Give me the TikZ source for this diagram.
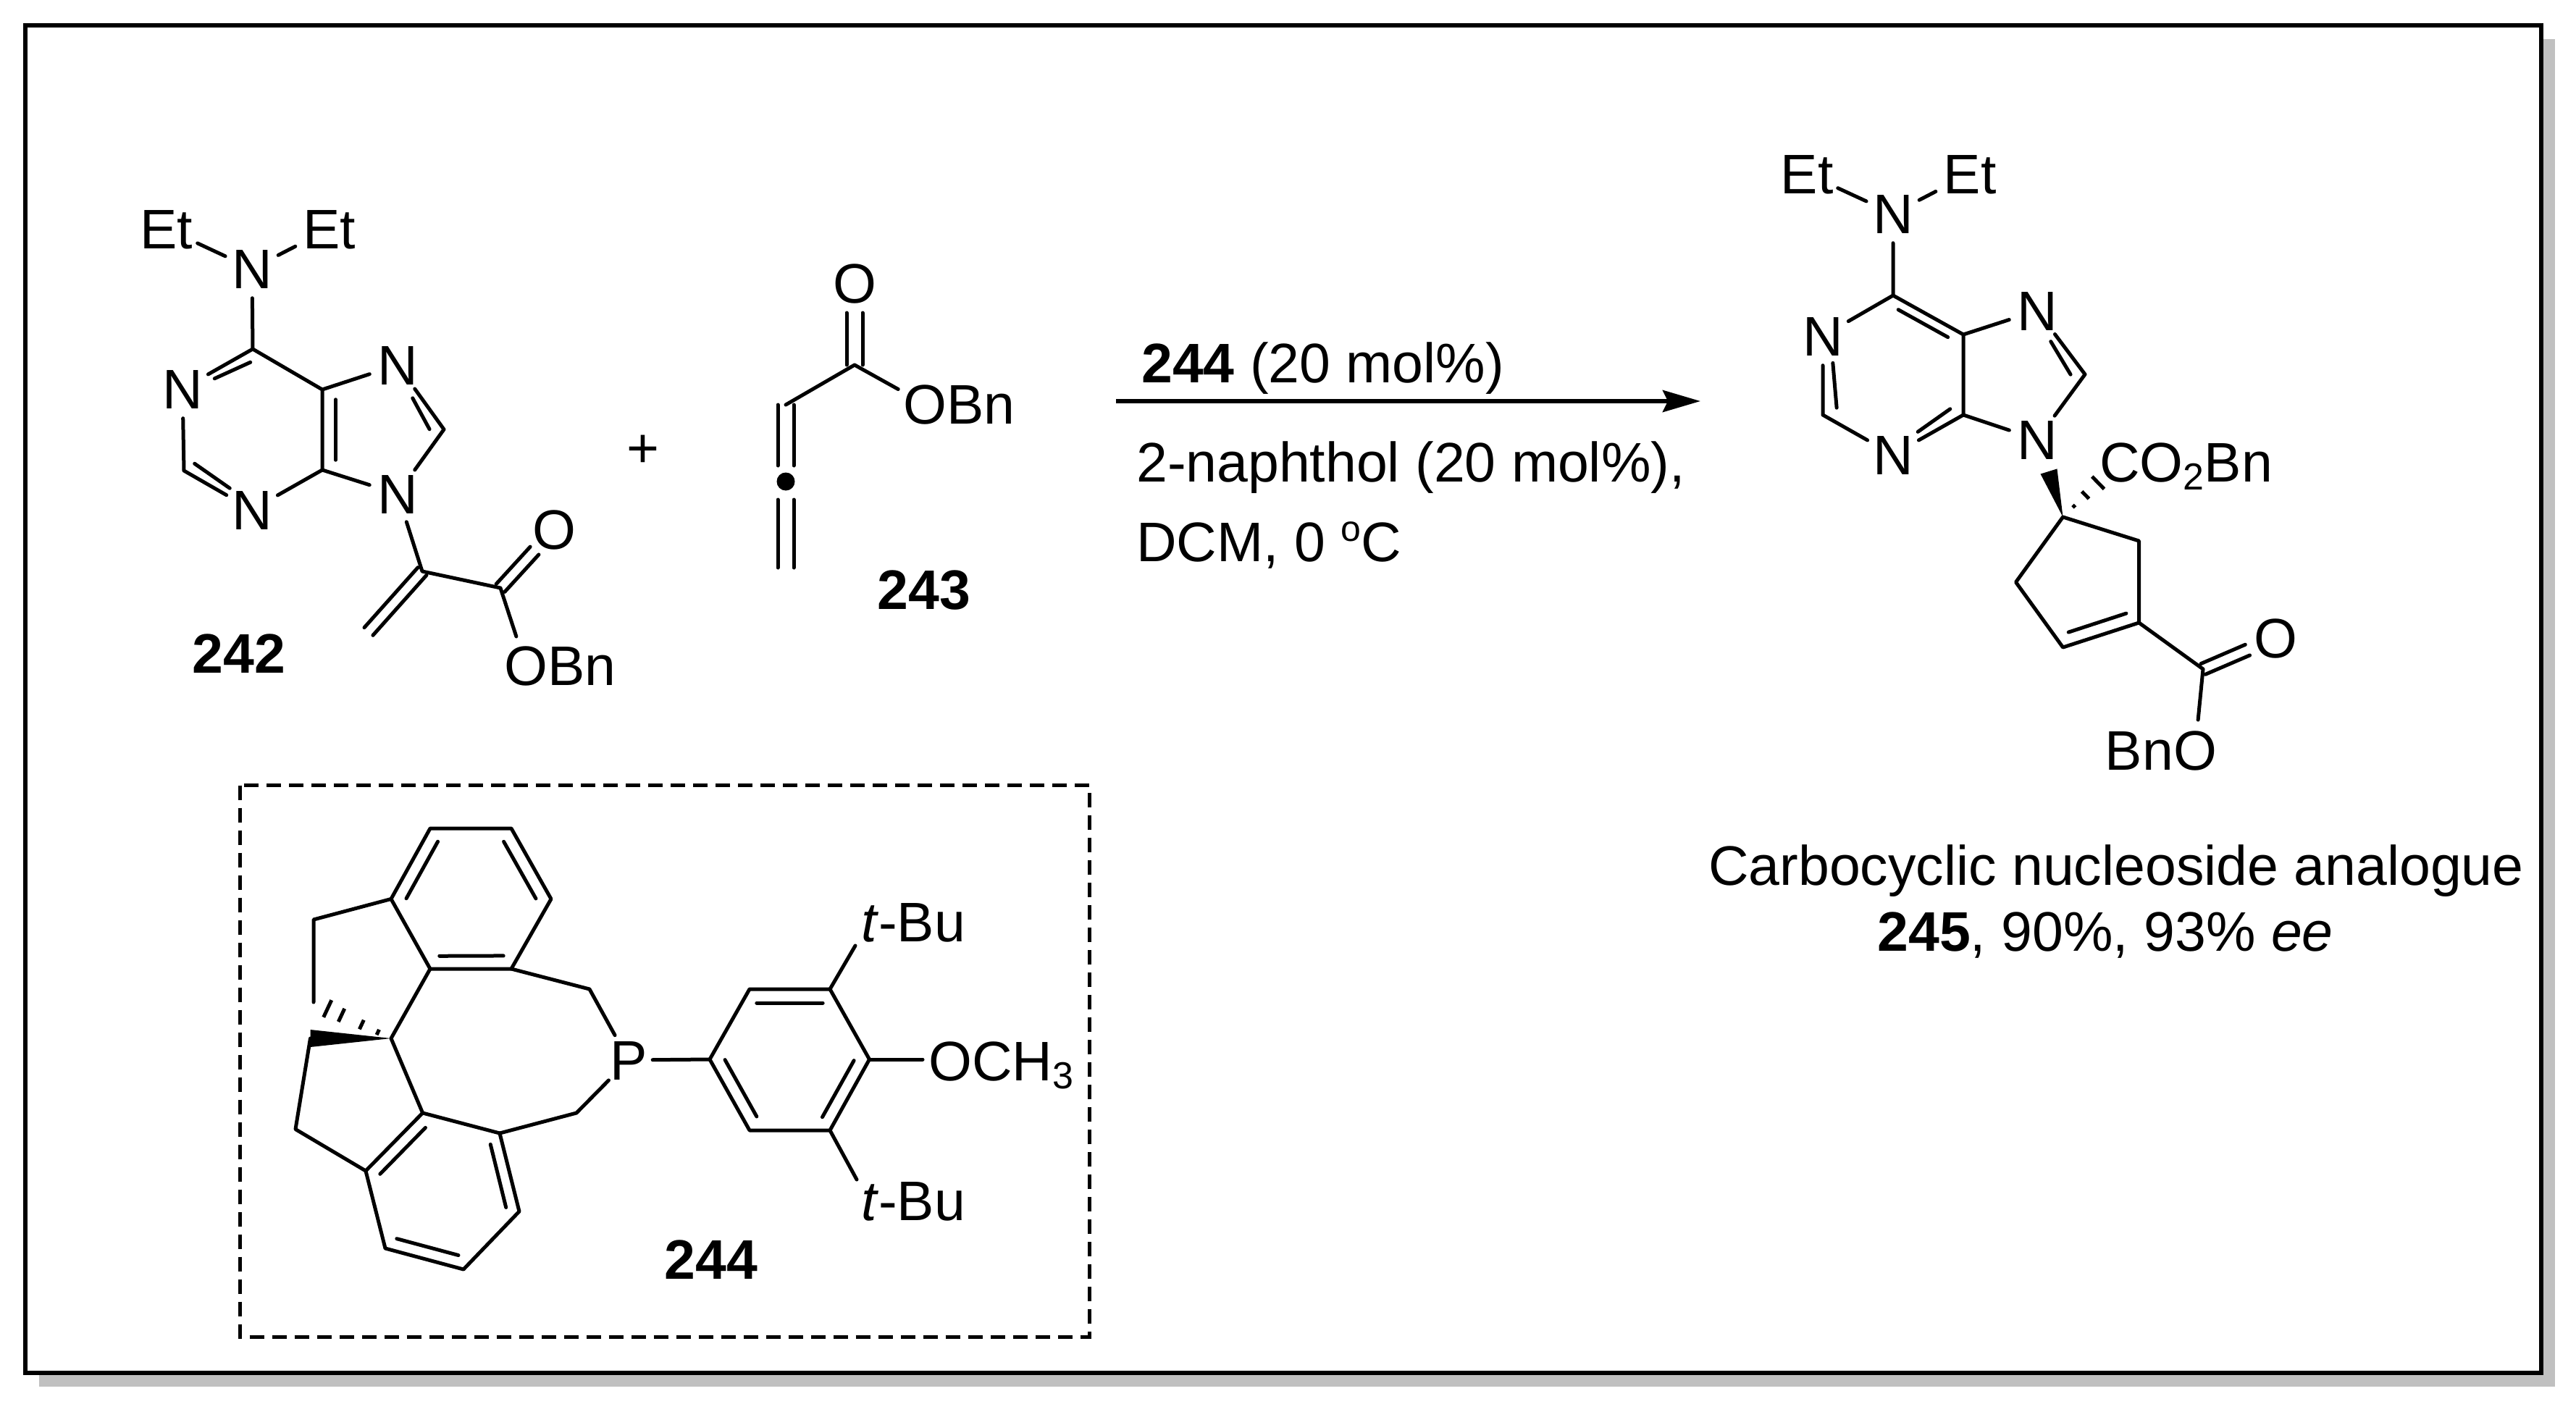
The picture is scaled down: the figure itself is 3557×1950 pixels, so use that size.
\documentclass[tikz,border=0pt]{standalone}
\usepackage{fontspec}
\setmainfont{Liberation Sans}
\usetikzlibrary{calc,arrows.meta}
\newcommand{\subnum}[1]{\raisebox{-11pt}{\fontsize{52}{52}\selectfont #1}}
\newcommand{\supo}{\raisebox{28pt}{\fontsize{50}{50}\selectfont o}}
\newcommand{\dbl}[5]{\draw[bond] ($(#1)!#3pt!90:(#2)!#4pt!(#2)$) -- ($(#2)!#3pt!-90:(#1)!#5pt!(#1)$);}
\newcommand{\sym}[5]{%
  \draw[bond,shorten <=#4pt,shorten >=#5pt] ($(#1)!#3pt!90:(#2)$) -- ($(#2)!#3pt!-90:(#1)$);
  \draw[bond,shorten <=#4pt,shorten >=#5pt] ($(#1)!#3pt!-90:(#2)$) -- ($(#2)!#3pt!90:(#1)$);}
\newcommand{\wedgebond}[3]{\fill[black] (#1) -- ($(#2)!#3pt!90:(#1)$) -- ($(#2)!#3pt!-90:(#1)$) -- cycle;}
\newcommand{\hashstroke}[4]{\draw[bond,line cap=butt] ($(#1)!#3!(#2)!#4pt!90:(#2)$) -- ($(#1)!#3!(#2)!#4pt!-90:(#2)$);}
\definecolor{shadowgrey}{HTML}{C0C0C0}
\tikzset{
  every node/.style={font=\fontsize{77}{92}\selectfont},
  bond/.style={line width=5pt,line cap=round,line join=round,black},
  atom/.style={circle,inner sep=1pt,text height=55pt,text depth=0pt},
  lab/.style={inner sep=0pt,text height=55pt,text depth=0pt},
}
\begin{document}
\begin{tikzpicture}[x=1pt,y=-1pt]
\useasboundingbox (0,0) rectangle (3557,1950);
\fill[white] (0,0) rectangle (3557,1950);
\fill[shadowgrey] (54,54) rectangle (3528,1915);
\draw[line width=6pt,fill=white] (35,35.5) rectangle (3509,1896);

% ---------- 242 ----------
\node[atom] (a_N) at (348,371) {N};
\node[atom] (a_Et1) at (230,316) {Et};
\node[atom] (a_Et2) at (455,316) {Et};
\coordinate (a_C6) at (349,482);
\node[atom] (a_N1) at (252,537) {N};
\coordinate (a_C2) at (254,650);
\node[atom] (a_N3) at (348,704) {N};
\coordinate (a_C4) at (445,649);
\coordinate (a_C5) at (445,538);
\node[atom] (a_N7) at (549,504) {N};
\coordinate (a_C8) at (613,593);
\node[atom] (a_N9) at (549,682) {N};
\coordinate (a_Ca) at (583,789);
\coordinate (a_CH2) at (509,872);
\coordinate (a_CO) at (691,812);
\node[atom] (a_O) at (765,731) {O};
\node[atom] (a_O2) at (726,919) {O};
\node[lab,anchor=west] (a_Bn) at (756,919) {Bn};
\node[lab] (l242) at (330,902) {\textbf{242}};
\draw[bond] (a_N) -- (a_Et1);
\draw[bond,shorten >=6pt] (a_N) -- (a_Et2);
\draw[bond] (a_N) -- (a_C6);
\draw[bond] (a_C6) -- (a_N1) (a_N1) -- (a_C2) (a_C2) -- (a_N3) (a_N3) -- (a_C4) -- (a_C5) -- (a_C6);
\draw[bond] (a_C5) -- (a_N7) (a_N7) -- (a_C8) (a_C8) -- (a_N9) (a_N9) -- (a_C4);
\draw[bond] (a_N9) -- (a_Ca) -- (a_CO) (a_CO) -- (a_O2);
\dbl{a_C6}{a_N1}{16}{12}{46}
\dbl{a_C2}{a_N3}{17}{8}{42}
\dbl{a_C5}{a_C4}{21}{14}{14}
\dbl{a_C8}{a_N7}{18}{12}{50}
\sym{a_CO}{a_O}{8}{0}{40}
\sym{a_Ca}{a_CH2}{8}{0}{0}

\node[lab] (plus) at (888,618) {+};

% ---------- 243 ----------
\node[atom] (b_O) at (1180,391) {O};
\coordinate (b_C) at (1180,504);
\coordinate (b_CH) at (1085,559);
\coordinate (b_dot) at (1085,665);
\coordinate (b_end) at (1085,784);
\node[atom] (b_O2) at (1277,558) {O};
\node[lab,anchor=west] (b_Bn) at (1307,558) {Bn};
\node[lab] (l243) at (1276,814) {\textbf{243}};
\fill[black] (b_dot) circle (12.5pt);
\draw[bond] (b_CH) -- (b_C) (b_C) -- (b_O2);
\sym{b_C}{b_O}{11}{0}{41}
\sym{b_CH}{b_dot}{11}{0}{22}
\sym{b_dot}{b_end}{11}{25}{0}

% ---------- arrow ----------
\coordinate (arrS) at (1541,554);
\coordinate (arrE) at (2348,554);
\draw[line width=6pt,-{Stealth[length=52pt,width=30pt,inset=7pt]}] (arrS) -- (arrE);
\node[lab,anchor=west] (t1) at (1576,501) {\textbf{244} (20 mol\%)};
\node[lab,anchor=west] (t2) at (1569,638) {2-naphthol (20 mol\%),};
\node[lab,anchor=west] (t3) at (1569,748) {DCM, 0 \supo C};

% ---------- 245 ----------
\node[atom] (c_N) at (2614,295) {N};
\node[atom] (c_Et1) at (2495,240) {Et};
\node[atom] (c_Et2) at (2720,240) {Et};
\coordinate (c_C6) at (2614,408);
\node[atom] (c_N1) at (2517,464) {N};
\coordinate (c_C2) at (2517,573);
\node[atom] (c_N3) at (2614,628) {N};
\coordinate (c_C4) at (2711,573);
\coordinate (c_C5) at (2711,462);
\node[atom] (c_N7) at (2813,429) {N};
\coordinate (c_C8) at (2879,517);
\node[atom] (c_N9) at (2813,607) {N};
\coordinate (c_Cq) at (2848.5,714);
\coordinate (c_wb) at (2829,651);
\coordinate (c_hb) at (2905,659);
\coordinate (c_R1) at (2953.5,747);
\coordinate (c_R2) at (2953.5,860);
\coordinate (c_R3) at (2848.5,894);
\coordinate (c_R4) at (2783.5,804);
\coordinate (c_CO) at (3042,924);
\node[atom] (c_O) at (3142,881) {O};
\node[atom] (c_O2) at (3031,1036) {O};
\node[lab,anchor=east] (c_Bn) at (3001,1036) {Bn};
\node[lab,anchor=west] (c_co2) at (2899,638) {CO\subnum{2}Bn};
\node[lab] (t4) at (2922,1195) {Carbocyclic nucleoside analogue};
\node[lab] (t5) at (2907,1286) {\textbf{245}, 90\%, 93\% \textit{ee}};
\draw[bond] (c_N) -- (c_Et1);
\draw[bond,shorten >=6pt] (c_N) -- (c_Et2);
\draw[bond] (c_N) -- (c_C6) (c_C6) -- (c_N1) (c_N1) -- (c_C2) (c_C2) -- (c_N3) (c_N3) -- (c_C4) -- (c_C5) -- (c_C6);
\draw[bond] (c_C5) -- (c_N7) (c_N7) -- (c_C8) (c_C8) -- (c_N9) (c_N9) -- (c_C4);
\draw[bond] (c_Cq) -- (c_R1) -- (c_R2) -- (c_R3) -- (c_R4) -- (c_Cq);
\draw[bond] (c_R2) -- (c_CO) (c_CO) -- (c_O2);
\dbl{c_C5}{c_C6}{16}{17}{16}
\dbl{c_N1}{c_C2}{21}{38}{10}
\dbl{c_N3}{c_C4}{18}{46}{12}
\dbl{c_C8}{c_N7}{18}{12}{46}
\dbl{c_R3}{c_R2}{20}{14}{13}
\sym{c_CO}{c_O}{8}{0}{42}
\wedgebond{c_Cq}{c_wb}{12}
\hashstroke{c_Cq}{c_hb}{0.27}{2.5}
\hashstroke{c_Cq}{c_hb}{0.55}{7}
\hashstroke{c_Cq}{c_hb}{0.86}{12}

% ---------- 244 box ----------
\draw[line width=5pt,dash pattern=on 20pt off 11pt] (331.5,1084.5) rectangle (1504,1846.5);
\coordinate (d_a1) at (594,1144);
\coordinate (d_a2) at (706,1144);
\coordinate (d_a3) at (761,1241.5);
\coordinate (d_a4) at (706,1338);
\coordinate (d_a5) at (594,1338);
\coordinate (d_a6) at (540,1241.5);
\coordinate (d_c1) at (433,1270);
\coordinate (d_c2) at (433,1384);
\coordinate (d_sp) at (540,1434);
\coordinate (d_wb) at (428.5,1434);
\coordinate (d_l1) at (408,1559.5);
\coordinate (d_g) at (505,1617);
\coordinate (d_b) at (583.6,1537);
\coordinate (d_c) at (690,1565);
\coordinate (d_d) at (717,1673);
\coordinate (d_e) at (640,1753);
\coordinate (d_f) at (532,1724);
\coordinate (d_p1) at (814,1366);
\coordinate (d_p2) at (796,1537);
\node[atom] (d_P) at (868,1464) {P};
\coordinate (d_r1) at (980,1463);
\coordinate (d_r2) at (1035,1366);
\coordinate (d_r3) at (1146,1366);
\coordinate (d_r4) at (1200.5,1463);
\coordinate (d_r5) at (1146,1561);
\coordinate (d_r6) at (1035,1561);
\node[lab,anchor=west] (d_tb1) at (1189,1273) {\textit{t}-Bu};
\node[lab,anchor=west] (d_tb2) at (1189,1658) {\textit{t}-Bu};
\coordinate (d_tb1e) at (1181,1306);
\coordinate (d_tb2e) at (1183,1629);
\node[lab,anchor=west] (d_och) at (1282,1465) {OCH\subnum{3}};
\node[lab] (l244) at (982,1739) {\textbf{244}};
\draw[bond] (d_a1) -- (d_a2) -- (d_a3) -- (d_a4) -- (d_a5) -- (d_a6) -- cycle;
\draw[bond] (d_a6) -- (d_c1) -- (d_c2);
\draw[bond] (d_a5) -- (d_sp) -- (d_b);
\draw[bond] (d_wb) -- (d_l1) -- (d_g);
\draw[bond] (d_b) -- (d_g) -- (d_f) -- (d_e) -- (d_d) -- (d_c) -- cycle;
\draw[bond] (d_a4) -- (d_p1) -- (d_P);
\draw[bond] (d_c) -- (d_p2) -- (d_P);
\draw[bond,shorten <=-6pt] (d_P) -- (d_r1);
\draw[bond] (d_r1) -- (d_r2) -- (d_r3) -- (d_r4) -- (d_r5) -- (d_r6) -- cycle;
\draw[bond] (d_r3) -- (d_tb1e);
\draw[bond] (d_r5) -- (d_tb2e);
\draw[bond,shorten >=8pt] (d_r4) -- (d_r4 -| d_och.west);
\dbl{d_a1}{d_a6}{20}{11}{11}
\dbl{d_a5}{d_a4}{20}{13}{11}
\dbl{d_a3}{d_a2}{20}{11}{11}
\dbl{d_b}{d_g}{19}{12}{11}
\dbl{d_f}{d_e}{19}{12}{12}
\dbl{d_d}{d_c}{18}{10}{12}
\dbl{d_r1}{d_r6}{20}{11}{12}
\dbl{d_r5}{d_r4}{20}{11}{12}
\dbl{d_r3}{d_r2}{21}{10}{10}
\wedgebond{d_sp}{d_wb}{12}
\hashstroke{d_sp}{d_c2}{0.17}{4}
\hashstroke{d_sp}{d_c2}{0.38}{7}
\hashstroke{d_sp}{d_c2}{0.64}{10}
\hashstroke{d_sp}{d_c2}{0.82}{13}
\end{tikzpicture}
\end{document}
